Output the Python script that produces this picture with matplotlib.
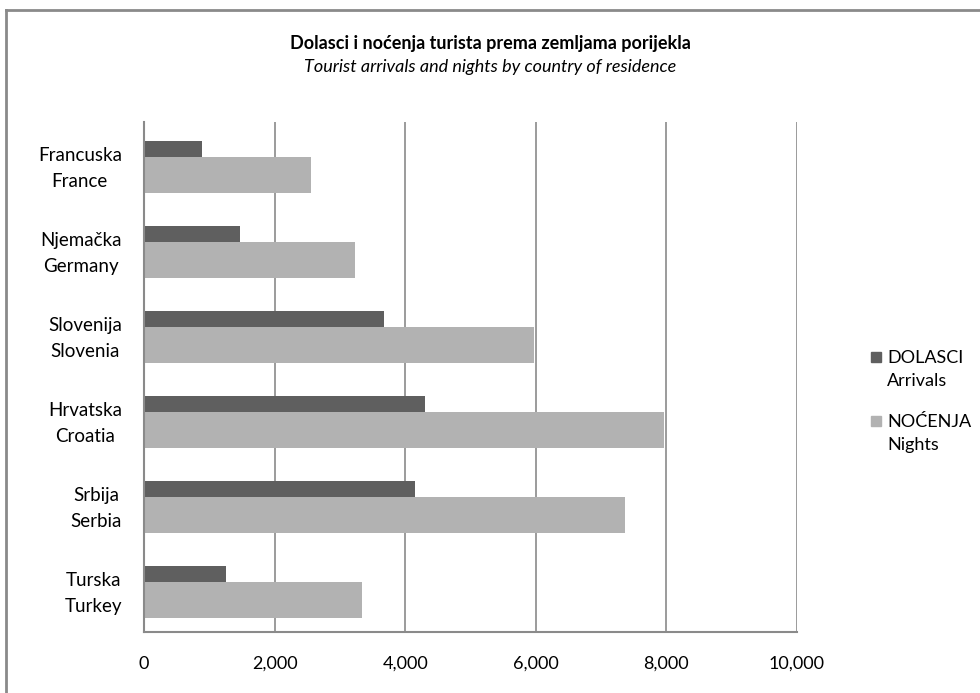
import numpy as np
import matplotlib.pyplot as plt
from matplotlib.lines import Line2D
from matplotlib.patches import Rectangle

plt.rcParams['font.family'] = ['Lato', 'DejaVu Sans']

# data
countries = ["Francuska\nFrance", "Njemačka\nGermany", "Slovenija\nSlovenia",
             "Hrvatska\nCroatia", "Srbija\nSerbia", "Turska\nTurkey"]
arrivals = [890, 1470, 3670, 4310, 4150, 1250]
nights = [2560, 3230, 5970, 7970, 7370, 3340]
xticks = [0, 2000, 4000, 6000, 8000, 10000]
series = ["DOLASCI\nArrivals", "NOĆENJA\nNights"]

dark = "#5f5f5f"
light = "#b2b2b2"
gridc = "#8a8a8a"

fig = plt.figure(figsize=(9.8, 6.93), dpi=100)
ax = fig.add_axes([144/980, 1-632/693, (797-144)/980, (632-122)/693])

y = np.arange(len(countries))
ax.barh(y - 0.182, arrivals, height=0.188, color=dark)
ax.barh(y + 0.124, nights, height=0.423, color=light)

ax.set_ylim(len(countries) - 0.5, -0.5)
ax.set_xlim(0, 10000)
ax.set_xticks(xticks)
ax.set_xticklabels([f"{v:,}" for v in xticks], fontsize=13)
ax.set_yticks(y - 0.02)
ax.set_yticklabels(countries, fontsize=13.5, multialignment="center", linespacing=1.6)
ax.tick_params(axis="both", length=0)
ax.tick_params(axis="x", pad=17)
ax.tick_params(axis="y", pad=16)

ax.grid(axis="x", color=gridc, linewidth=1.2)
ax.set_axisbelow(True)
for s in ["top", "right"]:
    ax.spines[s].set_visible(False)
for s in ["left", "bottom"]:
    ax.spines[s].set_color(gridc)
    ax.spines[s].set_linewidth(1.5)

# titles
fig.text(0.5, 1-44/693, "Dolasci i noćenja turista prema zemljama porijekla",
         ha="center", va="center", fontsize=13, fontweight="bold")
fig.text(0.5, 1-67/693, "Tourist arrivals and nights by country of residence",
         ha="center", va="center", fontsize=13, style="italic")

# legend, drawn by hand so the square sits on the first line
for i, (lab, col) in enumerate(zip(series, [dark, light])):
    yc = 357 + i * 64
    fig.add_artist(Rectangle((871/980, 1-(yc+5)/693), 10/980, 10/693,
                             color=col, transform=fig.transFigure))
    fig.text(887/980, 1-(yc-7)/693, lab, ha="left", va="top", fontsize=13,
             linespacing=1.55)

# border of the chart area (top and left only visible)
fig.add_artist(Line2D([6/980, 1], [1-10/693, 1-10/693], color=gridc, linewidth=2,
                      transform=fig.transFigure))
fig.add_artist(Line2D([6/980, 6/980], [0, 1-10/693], color=gridc, linewidth=2,
                      transform=fig.transFigure))

fig.savefig("out.png", dpi=100, facecolor="white")
